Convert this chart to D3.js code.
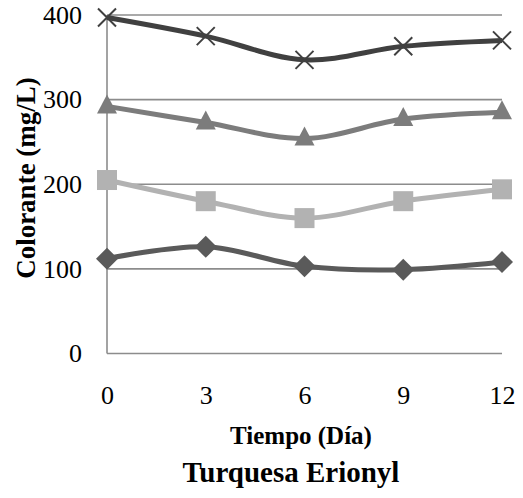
<!DOCTYPE html>
<html>
<head>
<meta charset="utf-8">
<script src="https://cdn.jsdelivr.net/npm/d3@7"></script>
<style>
  html, body { margin: 0; padding: 0; background: #fff; }
  svg text { font-family: "Liberation Serif", "Times New Roman", "DejaVu Serif", serif; }
</style>
</head>
<body>
<svg id="chart" width="523" height="498"></svg>
<script>
// Days sampled
const days = [0, 3, 6, 9, 12];
// Dye concentration (mg/L) per series
const seriesCross    = [397, 375, 347, 363, 370];
const seriesTriangle = [292, 273, 254, 277, 285];
const seriesSquare   = [205, 180, 160, 180, 194];
const seriesDiamond  = [112, 126, 103, 99, 108];
const yTicks = [0, 100, 200, 300, 400];
const xTicks = [0, 3, 6, 9, 12];

const FONT = '"Liberation Serif", "Times New Roman", "DejaVu Serif", serif';

const svg = d3.select("#chart");
const margin = { left: 107, right: 21, top: 15, bottom: 144.5 };
const W = 523, H = 498;

const x = d3.scaleLinear().domain([0, 12]).range([margin.left, W - margin.right]);
const y = d3.scaleLinear().domain([0, 400]).range([H - margin.bottom, margin.top]);

const gridColor = "#8c8c8c";

// horizontal gridlines
svg.append("g").selectAll("line").data(yTicks.filter(d => d > 0)).join("line")
  .attr("x1", x(0)).attr("x2", x(12))
  .attr("y1", d => y(d)).attr("y2", d => y(d))
  .attr("stroke", gridColor).attr("stroke-width", 1.6);

// axes lines
svg.append("line").attr("x1", x(0)).attr("x2", x(0)).attr("y1", y(0)).attr("y2", y(400))
  .attr("stroke", gridColor).attr("stroke-width", 1.6);
svg.append("line").attr("x1", x(0)).attr("x2", x(12)).attr("y1", y(0)).attr("y2", y(0))
  .attr("stroke", gridColor).attr("stroke-width", 1.6);

// y tick labels
const yAxis = d3.axisLeft(y).tickValues(yTicks).tickSize(0).tickPadding(25);
const gy = svg.append("g").attr("transform", `translate(${x(0)},0)`).call(yAxis)
  .attr("font-family", null).attr("font-size", null);
gy.select(".domain").remove();
gy.selectAll("text").style("font-family", FONT).style("font-size", "26px").attr("fill", "#000");

// x tick labels
const xAxis = d3.axisBottom(x).tickValues(xTicks).tickSize(0).tickPadding(32);
const gx = svg.append("g").attr("transform", `translate(0,${y(0)})`).call(xAxis)
  .attr("font-family", null).attr("font-size", null);
gx.select(".domain").remove();
gx.selectAll("text").style("font-family", FONT).style("font-size", "26px").attr("fill", "#000");

// series
const line = d3.line().x((d, i) => x(days[i])).y(d => y(d)).curve(d3.curveCardinal.tension(0));
const series = [
  { values: seriesDiamond,  color: "#5a5a5a", marker: "diamond" },
  { values: seriesSquare,   color: "#b2b2b2", marker: "square" },
  { values: seriesTriangle, color: "#7c7c7c", marker: "triangle" },
  { values: seriesCross,    color: "#404040", marker: "cross" }
];

series.forEach(s => {
  svg.append("path").datum(s.values).attr("d", line)
    .attr("fill", "none").attr("stroke", s.color).attr("stroke-width", 5)
    .attr("stroke-linejoin", "round");
  const g = svg.append("g");
  s.values.forEach((v, i) => {
    const cx = x(days[i]), cy = y(v);
    if (s.marker === "diamond") {
      g.append("path").attr("d", `M${cx},${cy - 11}L${cx + 11},${cy}L${cx},${cy + 11}L${cx - 11},${cy}Z`)
        .attr("fill", s.color);
    } else if (s.marker === "square") {
      g.append("rect").attr("x", cx - 10).attr("y", cy - 10).attr("width", 20).attr("height", 20)
        .attr("fill", s.color);
    } else if (s.marker === "triangle") {
      g.append("path").attr("d", `M${cx},${cy - 12}L${cx + 10},${cy + 7}L${cx - 10},${cy + 7}Z`)
        .attr("fill", s.color);
    } else {
      g.append("path").attr("d", `M${cx - 9},${cy - 9}L${cx + 9},${cy + 9}M${cx + 9},${cy - 9}L${cx - 9},${cy + 9}`)
        .attr("stroke", s.color).attr("stroke-width", 2);
    }
  });
});

// axis titles and chart title
svg.append("text").attr("x", 301).attr("y", 444)
  .attr("text-anchor", "middle").style("font-family", FONT).style("font-size", "25px").attr("font-weight", "bold")
  .text("Tiempo (Día)");
svg.append("text").attr("transform", "translate(35,178) rotate(-90)")
  .attr("text-anchor", "middle").style("font-family", FONT).style("font-size", "27px").attr("font-weight", "bold")
  .text("Colorante (mg/L)");
svg.append("text").attr("x", 291).attr("y", 482)
  .attr("text-anchor", "middle").style("font-family", FONT).style("font-size", "29px").attr("font-weight", "bold")
  .text("Turquesa Erionyl");
</script>
</body>
</html>
